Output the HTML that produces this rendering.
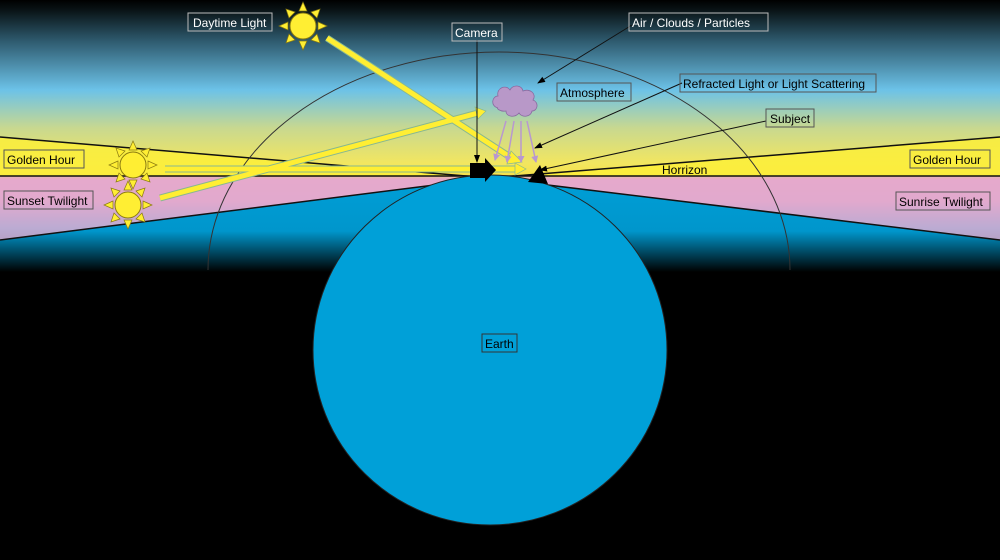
<!DOCTYPE html>
<html><head><meta charset="utf-8"><style>
html,body{margin:0;padding:0;background:#000;}
svg{display:block;font-family:"Liberation Sans",sans-serif;}
</style></head><body>
<svg width="1000" height="560" viewBox="0 0 1000 560" xmlns="http://www.w3.org/2000/svg">
<defs>
<linearGradient id="sky" x1="0" y1="0" x2="0" y2="1">
<stop offset="0" stop-color="#000"/>
<stop offset="0.04" stop-color="#0a1518"/>
<stop offset="0.15" stop-color="#2e5a6e"/>
<stop offset="0.33" stop-color="#6cc2e8"/>
<stop offset="0.47" stop-color="#c8d890"/>
<stop offset="0.6" stop-color="#f2e660"/>
<stop offset="0.645" stop-color="#f5e24c"/>
<stop offset="0.66" stop-color="#e8aac8"/>
<stop offset="0.74" stop-color="#d8aad0"/>
<stop offset="0.84" stop-color="#40b4e4"/>
<stop offset="0.93" stop-color="#1a5a78"/>
<stop offset="1" stop-color="#000"/>
</linearGradient>
<linearGradient id="low" x1="0" y1="170" x2="0" y2="272" gradientUnits="userSpaceOnUse">
<stop offset="0" stop-color="#00a0d8"/>
<stop offset="0.6" stop-color="#0096cc"/>
<stop offset="1" stop-color="#000"/>
</linearGradient>
<marker id="ah" markerWidth="8" markerHeight="8" refX="7" refY="4" orient="auto" markerUnits="userSpaceOnUse"><path d="M0,1 L8,4 L0,7 z" fill="#000"/></marker>
<marker id="ap" markerWidth="7" markerHeight="7" refX="6" refY="3.5" orient="auto" markerUnits="userSpaceOnUse"><path d="M0,0 L7,3.5 L0,7 z" fill="#b898d0"/></marker>
<g id="sun">
<g fill="#ffee33" stroke="#8a7a10" stroke-width="0.7">
<path d="M-4,-15 L0,-24 L4,-15z"/><path d="M-4,15 L0,24 L4,15z"/>
<path d="M-15,-4 L-24,0 L-15,4z"/><path d="M15,-4 L24,0 L15,4z"/>
<path d="M8,-14 L17,-17 L14,-8z"/><path d="M-8,-14 L-17,-17 L-14,-8z"/>
<path d="M8,14 L17,17 L14,8z"/><path d="M-8,14 L-17,17 L-14,8z"/>
</g>
<circle r="13" fill="#ffee33" stroke="#8a7a10" stroke-width="1"/>
</g>
</defs>
<rect width="1000" height="272" fill="url(#sky)"/>
<rect y="272" width="1000" height="288" fill="#000"/>
<polygon points="0,137 490,178 0,176" fill="#fbee3a" opacity="0.85"/>
<polygon points="1000,137 490,178 1000,176" fill="#fbee3a" opacity="0.85"/>
<polygon points="0,176 1000,176 1000,240 490,178 0,240" fill="#e4a8cc" opacity="0.75"/>
<polygon points="0,240 490,178 1000,240 1000,272 0,272" fill="url(#low)"/>
<line x1="0" y1="176" x2="1000" y2="176" stroke="#111" stroke-width="1.5"/>
<line x1="0" y1="137" x2="490" y2="178" stroke="#111" stroke-width="1.5"/>
<line x1="1000" y1="137" x2="490" y2="178" stroke="#111" stroke-width="1.5"/>
<line x1="0" y1="240" x2="490" y2="178" stroke="#111" stroke-width="1.5"/>
<line x1="1000" y1="240" x2="490" y2="178" stroke="#111" stroke-width="1.5"/>
<path d="M208,270 A291,218 0 0 1 790,270" fill="none" stroke="#333" stroke-width="1"/>
<ellipse cx="490" cy="350" rx="177" ry="175" fill="#00a0d8" stroke="#222" stroke-width="1"/>
<!-- light rays with outline -->
<g stroke="#88b890" stroke-width="7" stroke-linecap="butt">
<line x1="327" y1="38" x2="510" y2="157"/>
<line x1="165" y1="169" x2="515" y2="169"/>
<line x1="160" y1="198" x2="478" y2="113"/>
</g>
<g stroke="#ffee33" stroke-width="5">
<line x1="327" y1="38" x2="510" y2="157"/>
<line x1="165" y1="169" x2="515" y2="169"/>
<line x1="160" y1="198" x2="478" y2="113"/>
</g>
<polygon points="511,151 522,162 507,164" fill="#ffee33" stroke="#88b890" stroke-width="0.7"/>
<polygon points="515,163 526,169 515,175" fill="#ffee33" stroke="#88b890" stroke-width="0.7"/>
<polygon points="475,107 486,111 478,119" fill="#ffee33" stroke="#88b890" stroke-width="0.7"/>
<use href="#sun" x="303" y="26"/>
<use href="#sun" x="133" y="165"/>
<use href="#sun" x="128" y="205"/>
<path d="M498,108 c-8,-2 -6,-12 0,-12 c-2,-8 8,-12 12,-6 c3,-6 12,-5 13,1 c7,-3 14,3 10,9 c6,2 5,11 -1,11 c-1,6 -10,7 -13,2 c-4,5 -13,4 -13,-2 c-6,1 -10,-3 -8,-3z" fill="#b898c8" stroke="#8a6aa0" stroke-width="0.8"/>
<g stroke="#b898d0" stroke-width="1.5">
<line x1="506" y1="121" x2="495" y2="160" marker-end="url(#ap)"/>
<line x1="514" y1="121" x2="507" y2="162" marker-end="url(#ap)"/>
<line x1="521" y1="121" x2="521" y2="162" marker-end="url(#ap)"/>
<line x1="527" y1="121" x2="536" y2="162" marker-end="url(#ap)"/>
</g>
<path d="M470,163 L485,163 L485,158 L496,170 L485,182 L485,178 L470,178z" fill="#000"/>
<polygon points="540,165 528,182 548,184" fill="#000"/>
<g stroke="#111" stroke-width="1" fill="none">
<line x1="477" y1="40" x2="477" y2="162" marker-end="url(#ah)"/>
<line x1="632" y1="25" x2="538" y2="83" marker-end="url(#ah)"/>
<line x1="682" y1="83" x2="535" y2="148" marker-end="url(#ah)"/>
<line x1="766" y1="121" x2="540" y2="170" marker-end="url(#ah)"/>
</g>
<g font-size="12" fill="#fff">
<rect x="188" y="13" width="84" height="18" fill="none" stroke="#bbb"/>
<text x="193" y="27">Daytime Light</text>
<rect x="452" y="23" width="50" height="18" fill="none" stroke="#bbb"/>
<text x="455" y="37">Camera</text>
<rect x="629" y="13" width="139" height="18" fill="none" stroke="#bbb"/>
<text x="632" y="27">Air / Clouds / Particles</text>
</g>
<g font-size="12" fill="#000">
<rect x="557" y="83" width="74" height="18" fill="none" stroke="#555"/>
<text x="560" y="97">Atmosphere</text>
<rect x="680" y="74" width="196" height="18" fill="none" stroke="#555"/>
<text x="683" y="88">Refracted Light or Light Scattering</text>
<rect x="766" y="109" width="48" height="18" fill="none" stroke="#555"/>
<text x="770" y="123">Subject</text>
<rect x="4" y="150" width="80" height="18" fill="none" stroke="#555"/>
<text x="7" y="164">Golden Hour</text>
<rect x="4" y="191" width="89" height="18" fill="none" stroke="#555"/>
<text x="7" y="205">Sunset Twilight</text>
<rect x="910" y="150" width="80" height="18" fill="none" stroke="#555"/>
<text x="913" y="164">Golden Hour</text>
<rect x="896" y="192" width="94" height="18" fill="none" stroke="#555"/>
<text x="899" y="206">Sunrise Twilight</text>
<text x="662" y="174">Horrizon</text>
<rect x="482" y="334" width="35" height="18" fill="none" stroke="#333"/>
<text x="485" y="348">Earth</text>
</g>
</svg>
</body></html>
